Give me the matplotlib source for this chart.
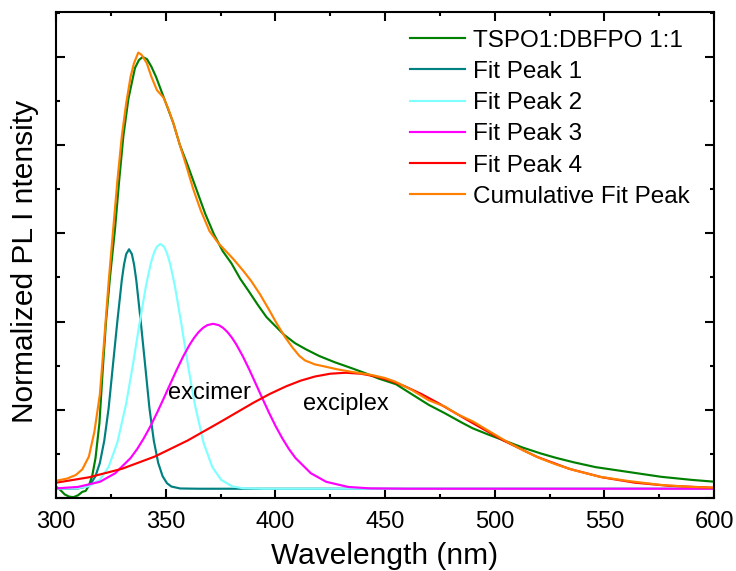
import numpy as np
import matplotlib
matplotlib.use("Agg")
import matplotlib.pyplot as plt
from matplotlib.ticker import MultipleLocator

plt.rcParams['font.family'] = ['Liberation Sans', 'DejaVu Sans']

# ---- data ----
green_x = [300, 302, 304, 306, 308, 310, 312, 313.5, 315, 316.5, 318, 319.8, 321.3, 322.8, 324.6,
           326.9, 328.8, 330.7, 333, 336, 337.8, 339.5, 341.5, 343.5, 345.6, 349, 353.5, 356.5,
           360, 364, 368, 372, 376, 380, 384, 388, 392, 396, 400, 404, 409, 414, 420, 427, 435,
           441, 447, 455, 462, 470, 477, 485, 490, 497, 505, 513, 521, 528, 536, 546, 561, 576,
           590, 600]
green_y = [0.026, 0.018, 0.008, 0.003, 0.002, 0.006, 0.014, 0.016, 0.028, 0.05, 0.09, 0.17, 0.29,
           0.40, 0.50, 0.61, 0.72, 0.82, 0.905, 0.975, 0.993, 1.0, 0.995, 0.978, 0.955, 0.91,
           0.85, 0.80, 0.755, 0.70, 0.645, 0.598, 0.56, 0.532, 0.497, 0.468, 0.438, 0.41, 0.39,
           0.37, 0.351, 0.337, 0.322, 0.308, 0.294, 0.283, 0.271, 0.258, 0.236, 0.211, 0.193,
           0.171, 0.158, 0.144, 0.129, 0.114, 0.101, 0.091, 0.081, 0.070, 0.059, 0.048, 0.041,
           0.037]

peak1_x = [300, 310, 314, 316, 318, 320, 322, 324, 326, 328, 330, 331, 332, 333.3, 334.6, 335.6,
           336.6, 338.6, 340.6, 342.6, 344.6, 346.6, 348.6, 350.6, 352.6, 356.6, 365, 600]
peak1_y = [0.021, 0.0216, 0.026, 0.0335, 0.0495, 0.0795, 0.1298, 0.2037, 0.3035, 0.402, 0.494,
           0.529, 0.553, 0.564, 0.553, 0.529, 0.494, 0.402, 0.3035, 0.2037, 0.1298, 0.0795,
           0.0495, 0.0335, 0.026, 0.0216, 0.021, 0.021]

peak2_x = [300, 310, 315, 320, 324, 328, 332, 335, 338, 341, 343, 344, 345, 346, 347.6, 349.2,
           350.2, 351.2, 352.2, 354.2, 357.2, 360.2, 363.2, 367.2, 371.2, 375.2, 380.2, 385.2,
           395, 600]
peak2_y = [0.021, 0.0222, 0.0266, 0.0416, 0.0708, 0.1263, 0.2146, 0.3002, 0.3934, 0.4806,
           0.5274, 0.5457, 0.560, 0.5699, 0.576, 0.5699, 0.560, 0.5457, 0.5274, 0.4806, 0.3934,
           0.3002, 0.2146, 0.1263, 0.0708, 0.0416, 0.0266, 0.0222, 0.021, 0.021]

peak3_x = [300, 310, 320, 327, 334, 337, 340, 343, 346, 349, 352, 355, 358, 361, 363, 365, 367,
           369, 371.6, 374.2, 376.2, 378.2, 380.2, 382.2, 385.2, 388.2, 391.2, 394.2, 397.2,
           400.2, 403.2, 406.2, 409.2, 416.2, 423.2, 433.2, 443.2, 460, 600]
peak3_y = [0.0218, 0.0251, 0.0367, 0.0561, 0.0906, 0.111, 0.1351, 0.1623, 0.1925, 0.2247,
           0.2577, 0.2904, 0.3211, 0.3482, 0.3635, 0.3761, 0.3857, 0.392, 0.395, 0.392, 0.3857,
           0.3761, 0.3635, 0.3482, 0.3211, 0.2904, 0.2577, 0.2247, 0.1925, 0.1623, 0.1351,
           0.111, 0.0906, 0.0561, 0.0367, 0.0251, 0.0218, 0.021, 0.021]

peak4_x = [300, 315, 330, 345, 360, 375, 390, 397.5, 405, 411.5, 418, 425, 432, 439, 446, 452.5,
           459, 466.5, 474, 489, 504, 519, 534, 549, 564, 579, 600]
peak4_y = [0.0347, 0.0469, 0.0661, 0.0939, 0.1303, 0.1726, 0.216, 0.236, 0.2534, 0.266, 0.2754,
           0.2818, 0.284, 0.2818, 0.2754, 0.266, 0.2534, 0.236, 0.216, 0.1726, 0.1303, 0.0939,
           0.0661, 0.0469, 0.0347, 0.0278, 0.0232]

cum_x = [300, 305, 309, 312, 315, 317.5, 320, 322, 324, 326, 328, 330, 332, 334, 335.5, 337.5,
         339, 341.4, 343.5, 346, 349, 351, 353.5, 356.5, 359.6, 362.6, 366, 370, 374, 377.8,
         381, 385.4, 389, 393, 397, 400.6, 404.4, 408, 411, 413.5, 418, 422.7, 428, 434.8, 443.9,
         450, 454.6, 462.2, 469.8, 477.4, 483, 490.3, 498, 505.5, 513, 520.7, 528, 535.9, 548,
         561, 576, 590, 600]
cum_y = [0.039, 0.044, 0.052, 0.065, 0.094, 0.15, 0.235, 0.36, 0.49, 0.605, 0.72, 0.82, 0.895,
         0.955, 0.985, 1.010, 1.005, 0.986, 0.955, 0.925, 0.908, 0.885, 0.850, 0.80, 0.75,
         0.70, 0.652, 0.605, 0.578, 0.558, 0.541, 0.515, 0.492, 0.462, 0.428, 0.396, 0.365,
         0.340, 0.322, 0.312, 0.303, 0.298, 0.292, 0.286, 0.279, 0.272, 0.264, 0.245, 0.222,
         0.207, 0.19, 0.173, 0.15, 0.128, 0.108, 0.090, 0.076, 0.0635, 0.048, 0.0385, 0.0295,
         0.025, 0.0234]

labels = ["TSPO1:DBFPO 1:1", "Fit Peak 1", "Fit Peak 2", "Fit Peak 3", "Fit Peak 4",
          "Cumulative Fit Peak"]
colors = ["#008000", "#008080", "#80FFFF", "#FF00FF", "#FF0000", "#FF8000"]
x_ticks = [300, 350, 400, 450, 500, 550, 600]

# ---- figure ----
W, H = 736, 571
fig = plt.figure(figsize=(W / 100, H / 100), dpi=100)
ax = fig.add_axes([56 / W, 1 - 498 / H, (714 - 56) / W, (498 - 12) / H])

series = [(green_x, green_y), (peak1_x, peak1_y), (peak2_x, peak2_y),
          (peak3_x, peak3_y), (peak4_x, peak4_y), (cum_x, cum_y)]
for (xs, ys), c, lab in zip(series, colors, labels):
    ax.plot(xs, ys, color=c, lw=1.55, label=lab, solid_joinstyle='round')

ax.set_xlim(300, 600)
ax.set_ylim(0, 1.102)
ax.set_xticks(x_ticks)
ax.set_xticklabels([str(t) for t in x_ticks])
ax.xaxis.set_minor_locator(MultipleLocator(25))
ax.set_yticks(np.arange(0, 1.01, 0.2))
ax.yaxis.set_minor_locator(MultipleLocator(0.1))
ax.tick_params(which='both', direction='in', top=True, right=True, width=1.5,
               labelleft=False, labelsize=17, pad=9, colors='black')
ax.tick_params(which='major', length=6.5)
ax.tick_params(which='minor', length=3.2)
for s in ax.spines.values():
    s.set_linewidth(1.5)

ax.set_xlabel("Wavelength (nm)", fontsize=21.5, labelpad=7)
ax.set_ylabel("Normalized PL I ntensity", fontsize=21.5)
ax.yaxis.set_label_coords(-0.026, 0.487)

ax.text(351.1, 0.224, "excimer", fontsize=17, va='baseline', ha='left')
ax.text(412.6, 0.1995, "exciplex", fontsize=17, va='baseline', ha='left')

ax.legend(loc='upper left', bbox_to_anchor=(410 / W, 1 - 29.5 / H), bbox_transform=fig.transFigure,
          frameon=False, fontsize=17.5, handlelength=2.26, handletextpad=0.32,
          labelspacing=0.38, borderpad=0, borderaxespad=0)

fig.savefig("out.png", dpi=100)
